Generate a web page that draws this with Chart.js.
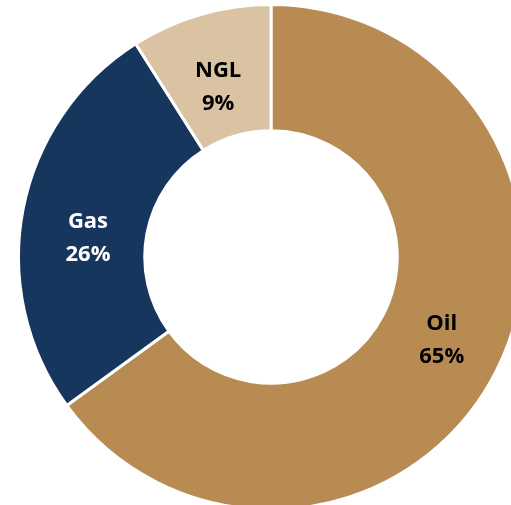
<!DOCTYPE html>
<html>
<head>
<meta charset="utf-8">
<script src="https://cdn.jsdelivr.net/npm/chart.js@4/dist/chart.umd.min.js"></script>
<style>
  html, body { margin: 0; padding: 0; background: #ffffff; overflow: hidden; }
  body { width: 511px; height: 505px; position: relative; }
  #wrap { position: absolute; left: 17px; top: 3px; width: 508px; height: 508px; }
</style>
</head>
<body>
<div id="wrap"><canvas id="chart"></canvas></div>
<script>
const categories = ["Oil", "Gas", "NGL"];
const shares = [65, 26, 9];
const sliceColors = ["#B88B52", "#17365D", "#D9C3A2"];
const labelColors = ["#000000", "#ffffff", "#000000"];
// small nudges so the text sits where the original put it
const labelNudgeY = [-3, 16, 12];
const labelNudgeX = [2, 3, 0];

const sliceLabels = {
  id: "sliceLabels",
  afterDatasetsDraw(chart) {
    const ctx = chart.ctx;
    const meta = chart.getDatasetMeta(0);
    ctx.save();
    ctx.font = "bold 22px 'Open Sans', sans-serif";
    ctx.textAlign = "center";
    ctx.textBaseline = "middle";
    meta.data.forEach((arc, i) => {
      const pos = arc.tooltipPosition();
      const x = pos.x + labelNudgeX[i];
      const y = pos.y + labelNudgeY[i];
      ctx.fillStyle = labelColors[i];
      ctx.fillText(categories[i], x, y - 16);
      ctx.fillText(shares[i] + "%", x, y + 17);
    });
    ctx.restore();
  },
};

new Chart(document.getElementById("chart"), {
  type: "doughnut",
  data: {
    labels: categories,
    datasets: [
      {
        data: shares,
        backgroundColor: sliceColors,
        borderColor: "#ffffff",
        borderWidth: 3,
      },
    ],
  },
  options: {
    responsive: true,
    maintainAspectRatio: false,
    animation: false,
    cutout: "50%",
    layout: { padding: 0 },
    plugins: {
      legend: { display: false },
      tooltip: { enabled: false },
    },
  },
  plugins: [sliceLabels],
});
</script>
</body>
</html>
